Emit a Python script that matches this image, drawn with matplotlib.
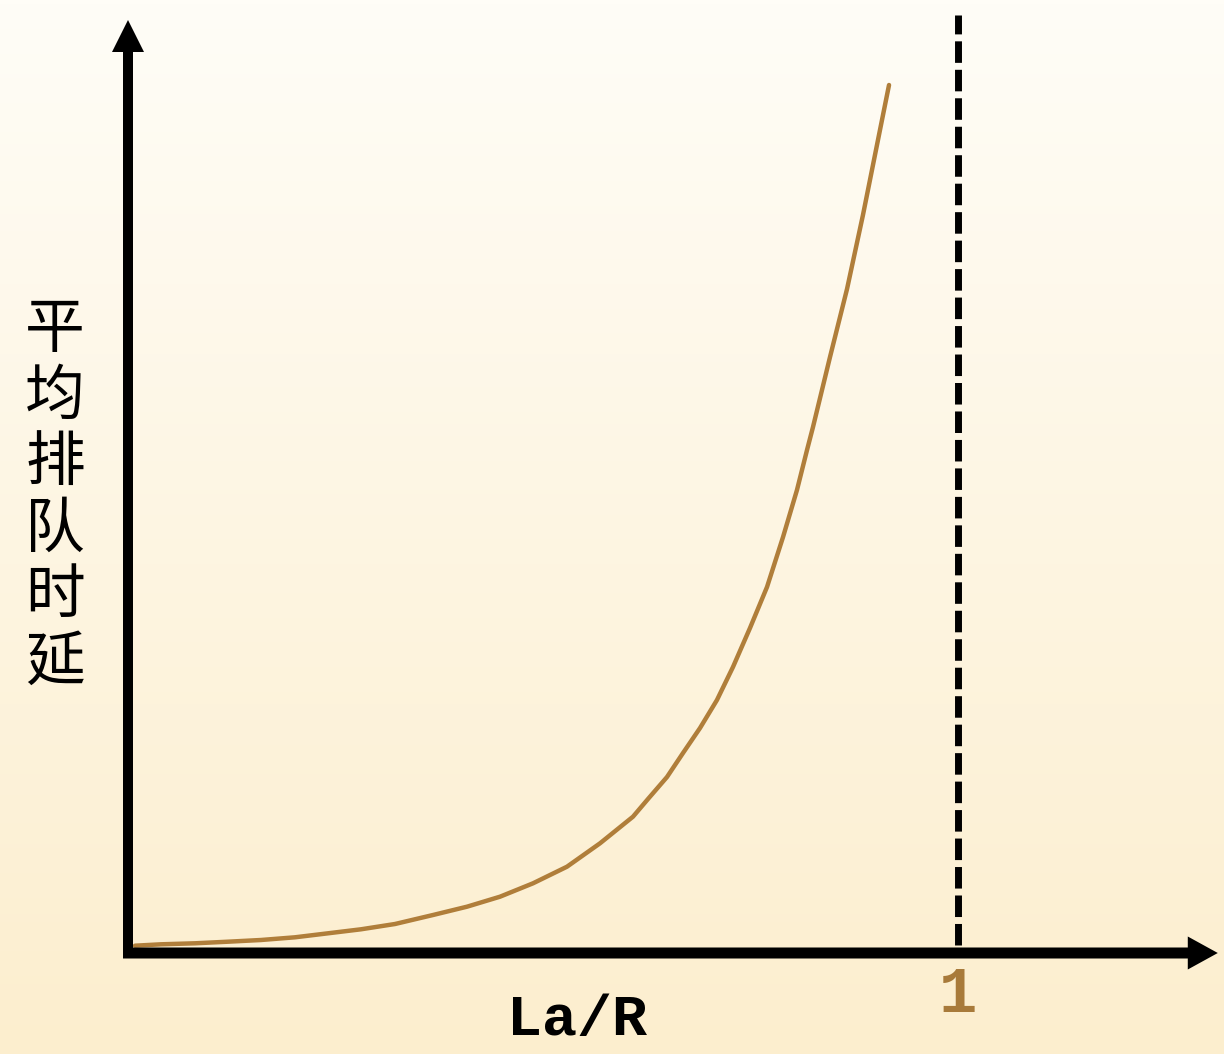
import matplotlib
matplotlib.use('Agg')
import matplotlib.pyplot as plt
import numpy as np

# load ratio La/R and average queueing delay (arbitrary units)
load = [0.0084, 0.0398, 0.0807, 0.1205, 0.1602, 0.2012, 0.2410, 0.2807,
        0.3217, 0.3675, 0.4084, 0.4482, 0.4880, 0.5289, 0.5687, 0.6084,
        0.6265, 0.6494, 0.6687, 0.6892, 0.7096, 0.7289, 0.7494, 0.7699,
        0.7892, 0.8060, 0.8181, 0.8253, 0.8458, 0.8663, 0.8855, 0.9060, 0.9169]
delay = [0.073, 0.087, 0.097, 0.113, 0.130, 0.157, 0.197, 0.237,
         0.290, 0.380, 0.463, 0.563, 0.697, 0.863, 1.097, 1.363,
         1.540, 1.760, 2.000, 2.250, 2.530, 2.860, 3.250, 3.660,
         4.160, 4.630, 5.030, 5.260, 5.960, 6.640, 7.380, 8.230, 8.680]
x_label = 'La/R'
y_label = '平均排队时延'
limit_tick = '1'
limit_x = 1.0

fig = plt.figure(figsize=(12.24, 10.54), dpi=100)
ax = fig.add_axes([0, 0, 1, 1])
x0, x1 = -128 / 830, (1224 - 128) / 830
y0, y1 = (953 - 1054) / 100, 953 / 100
ax.set_xlim(x0, x1)
ax.set_ylim(y0, y1)
ax.axis('off')

# background gradient, near white on top to light tan at the bottom
top = np.array([255, 253, 247]) / 255
bot = np.array([252, 238, 206]) / 255
t = np.linspace(0, 1, 256)[:, None, None]
grad = top * (1 - t) + bot * t
ax.imshow(grad, extent=[x0, x1, y0, y1], aspect='auto', zorder=0)

# axes arrows (x unit = 830 px, y unit = 100 px)
ax.arrow(0, -0.05, 0, 9.38, width=10 / 830, head_width=32 / 830,
         head_length=0.32, length_includes_head=True, color='black',
         lw=0, zorder=3)
ax.arrow(-0.006, 0, 1.319, 0, width=0.11, head_width=0.33,
         head_length=30 / 830, length_includes_head=True, color='black',
         lw=0, zorder=3)

# asymptote at La/R = 1
ax.plot([limit_x, limit_x], [0.08, 9.38], color='black', lw=5,
        dashes=(3.1, 1.0), zorder=2)

# delay curve
ax.plot(load, delay, color='#B07E3A', lw=3.2, solid_capstyle='round',
        solid_joinstyle='round', zorder=2)

ax.text(limit_x, -0.42, limit_tick, color='#A87A3A', fontsize=46,
        family='Liberation Mono', weight='bold', ha='center', va='center')
ax.text((577 - 128) / 830, (953 - 1020) / 100, x_label, color='black',
        fontsize=42, family='Liberation Mono', weight='bold',
        ha='center', va='center')
ax.text(-0.088, 4.56, '\n'.join(y_label), family=['Noto Sans CJK SC', 'DejaVu Sans'],
        fontsize=43, linespacing=1.12, ha='center', va='center')

fig.savefig('out.png', dpi=100)
